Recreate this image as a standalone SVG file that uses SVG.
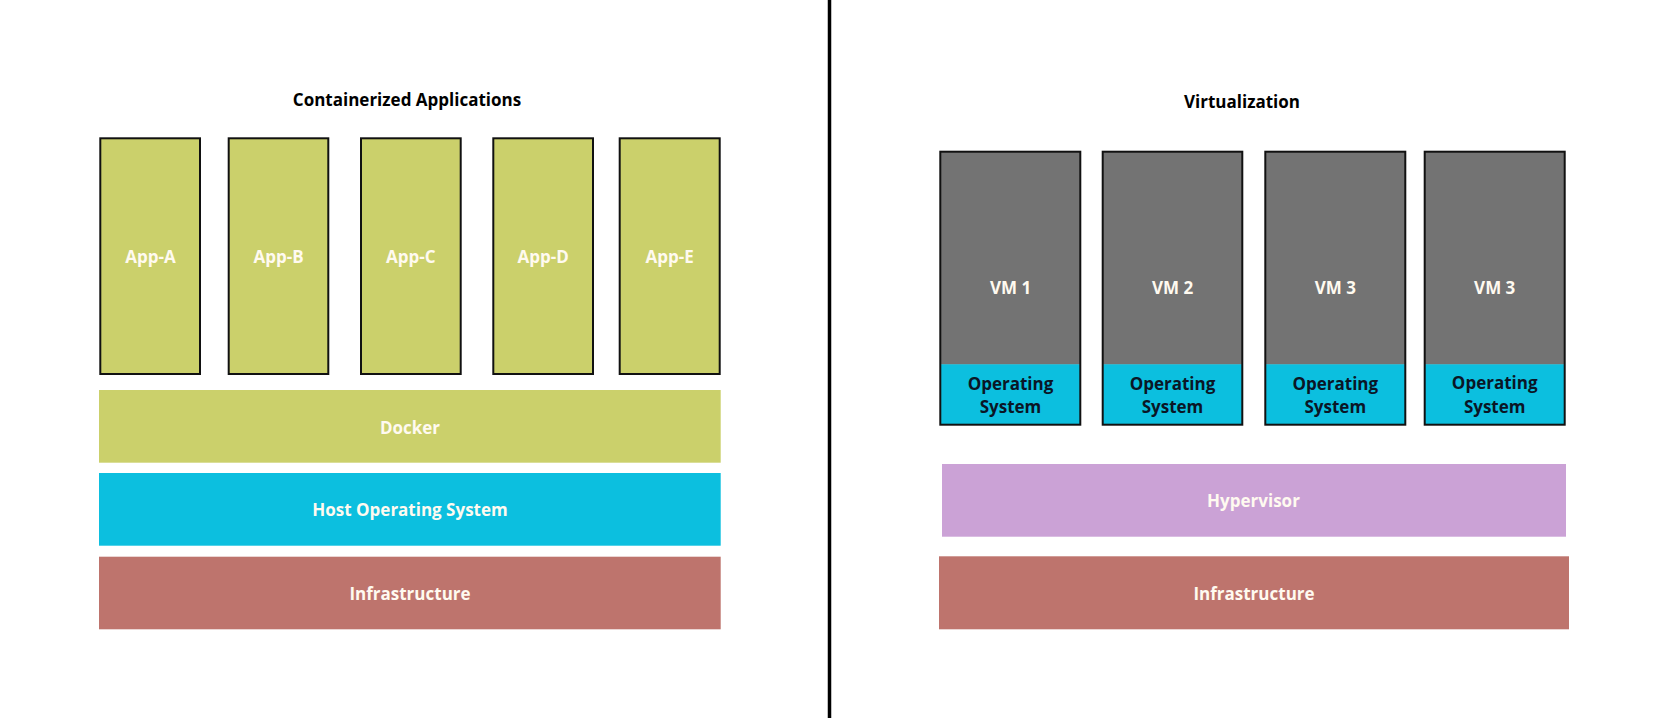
<svg xmlns="http://www.w3.org/2000/svg" width="1662" height="718" viewBox="0 0 1662 718">
<style>
  text { font-family: "Open Sans", "Liberation Sans", sans-serif; font-weight: 700; font-size: 17px; text-anchor: middle; }
  .title { fill: #000000; }
  .lbl { fill: #fffaf0; }
  .dark { fill: #0a1626; }
  .app { fill: #cbd06b; stroke: #111111; stroke-width: 2; }
  .vm { fill: #737373; }
  .os { fill: #0cbfdf; }
  .vmframe { fill: none; stroke: #111111; stroke-width: 2; }
  .green { fill: #cbd06b; }
  .cyan { fill: #0cbfdf; }
  .infra { fill: #be746d; }
  .hyper { fill: #cba2d6; }
</style>
<rect x="0" y="0" width="1662" height="718" fill="#ffffff"/>

<g id="divider">
  <line x1="829.5" y1="0" x2="829.5" y2="718" stroke="#000000" stroke-width="3.5"/>
</g>

<g id="title-containers">
  <text class="title" x="407" y="106">Containerized Applications</text>
</g>
<g id="app-a"><rect class="app" x="100.3" y="138.3" width="99.7" height="235.7"/><text class="lbl" x="150.6" y="263">App-A</text></g>
<g id="app-b"><rect class="app" x="228.7" y="138.3" width="99.6" height="235.7"/><text class="lbl" x="278.5" y="263">App-B</text></g>
<g id="app-c"><rect class="app" x="361" y="138.3" width="99.7" height="235.7"/><text class="lbl" x="410.8" y="263">App-C</text></g>
<g id="app-d"><rect class="app" x="493.3" y="138.3" width="99.7" height="235.7"/><text class="lbl" x="543.1" y="263">App-D</text></g>
<g id="app-e"><rect class="app" x="619.7" y="138.3" width="100" height="235.7"/><text class="lbl" x="669.7" y="263">App-E</text></g>

<g id="docker"><rect class="green" x="99" y="390" width="621.7" height="72.7"/><text class="lbl" x="410" y="433.5">Docker</text></g>
<g id="host-os"><rect class="cyan" x="99" y="473" width="621.7" height="72.7"/><text class="lbl" x="410" y="516">Host Operating System</text></g>
<g id="infra-left"><rect class="infra" x="99" y="556.7" width="621.7" height="72.6"/><text class="lbl" x="410" y="599.5">Infrastructure</text></g>

<g id="title-virtualization">
  <text class="title" x="1242" y="108.3">Virtualization</text>
</g>

<g id="vm1">
  <rect class="vm" x="940.3" y="151.7" width="140" height="213"/>
  <rect class="os" x="940.3" y="364.3" width="140" height="60.4"/>
  <rect class="vmframe" x="940.3" y="151.7" width="140" height="273"/>
  <text class="lbl" x="1010.5" y="293.5">VM 1</text>
  <text class="dark" x="1010.5" y="390">Operating</text>
  <text class="dark" x="1010.5" y="413.3">System</text>
</g>
<g id="vm2">
  <rect class="vm" x="1102.7" y="151.7" width="139.6" height="213"/>
  <rect class="os" x="1102.7" y="364.3" width="139.6" height="60.4"/>
  <rect class="vmframe" x="1102.7" y="151.7" width="139.6" height="273"/>
  <text class="lbl" x="1172.5" y="293.5">VM 2</text>
  <text class="dark" x="1172.5" y="390">Operating</text>
  <text class="dark" x="1172.5" y="413.3">System</text>
</g>
<g id="vm3">
  <rect class="vm" x="1265.3" y="151.7" width="140" height="213"/>
  <rect class="os" x="1265.3" y="364.3" width="140" height="60.4"/>
  <rect class="vmframe" x="1265.3" y="151.7" width="140" height="273"/>
  <text class="lbl" x="1335.3" y="293.5">VM 3</text>
  <text class="dark" x="1335.3" y="390">Operating</text>
  <text class="dark" x="1335.3" y="413.3">System</text>
</g>
<g id="vm4">
  <rect class="vm" x="1424.7" y="151.7" width="140" height="213"/>
  <rect class="os" x="1424.7" y="364.3" width="140" height="60.4"/>
  <rect class="vmframe" x="1424.7" y="151.7" width="140" height="273"/>
  <text class="lbl" x="1494.7" y="293.5">VM 3</text>
  <text class="dark" x="1494.7" y="389.3">Operating</text>
  <text class="dark" x="1494.7" y="412.5">System</text>
</g>

<g id="hypervisor"><rect class="hyper" x="942" y="464" width="624" height="72.7"/><text class="lbl" x="1253.5" y="507">Hypervisor</text></g>
<g id="infra-right"><rect class="infra" x="939" y="556.3" width="630" height="73"/><text class="lbl" x="1254" y="599.5">Infrastructure</text></g>

<g id="connectors"></g>
</svg>
